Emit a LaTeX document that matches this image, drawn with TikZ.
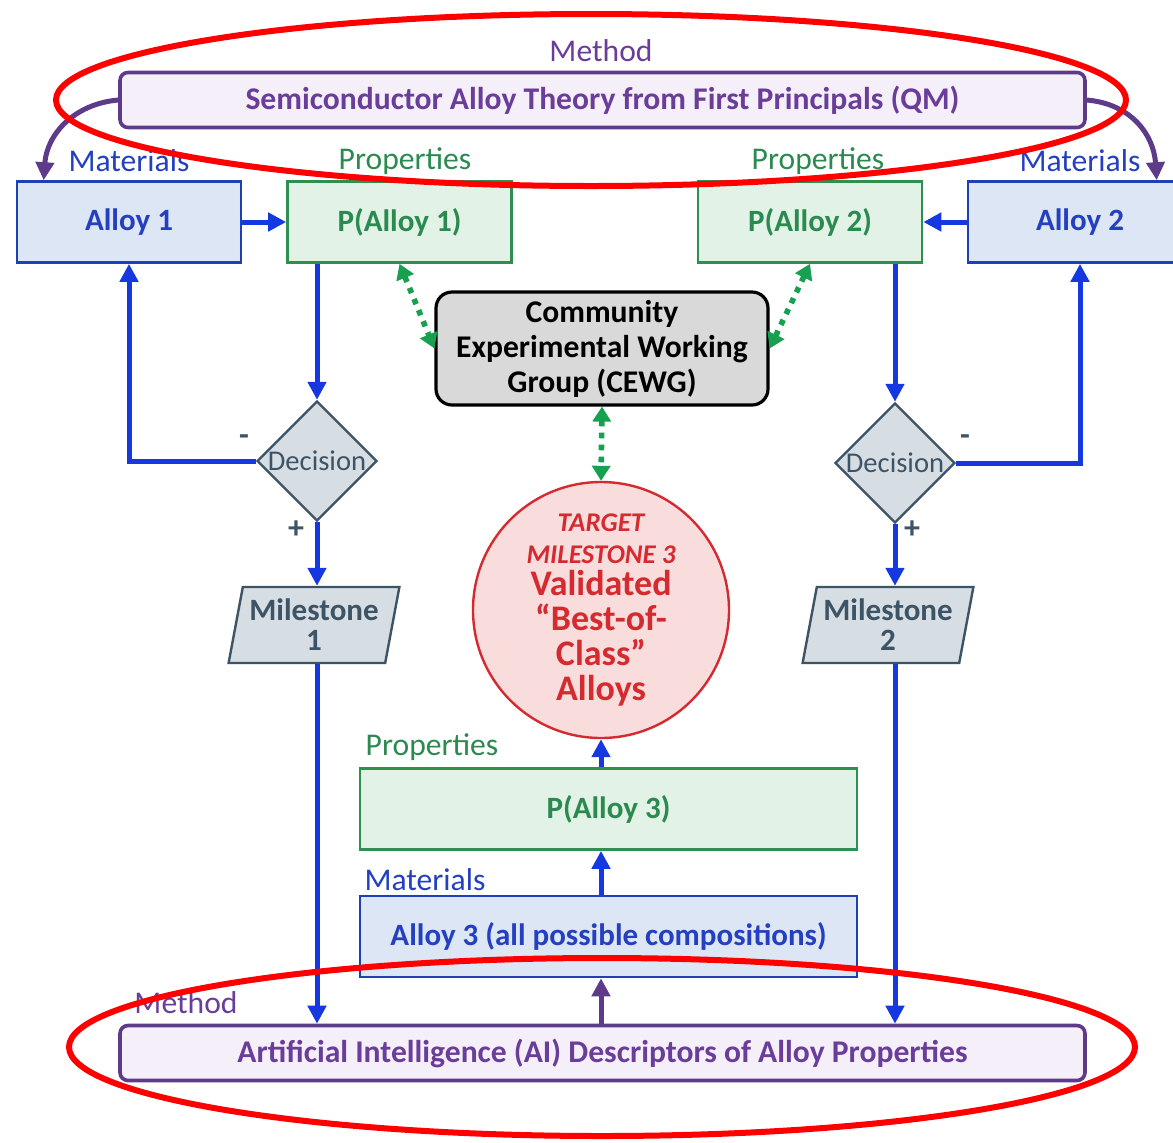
\documentclass[tikz,border=0pt]{standalone}
\usepackage{fontspec}
\setmainfont{Carlito}
\usetikzlibrary{arrows.meta,shapes.geometric,calc}

\definecolor{mpurple}{HTML}{5E3A8A}
\definecolor{mpurpletxt}{HTML}{6A3D9A}
\definecolor{mpurplefill}{HTML}{F4EFF8}
\definecolor{mblue}{HTML}{1F3FB5}
\definecolor{mbluetxt}{HTML}{2440C0}
\definecolor{mbluefill}{HTML}{DCE6F4}
\definecolor{marrow}{HTML}{1538E0}
\definecolor{mgreen}{HTML}{2E9050}
\definecolor{mgreentxt}{HTML}{2B8A50}
\definecolor{mgreenfill}{HTML}{E2F2E6}
\definecolor{dotgreen}{HTML}{17A050}
\definecolor{mslate}{HTML}{3D5366}
\definecolor{mslatefill}{HTML}{D6DEE4}
\definecolor{mred}{HTML}{D42A30}
\definecolor{mredfill}{HTML}{F9DDDD}
\definecolor{mgray}{HTML}{D9D9D9}

\newcommand{\smallred}{\bfseries\itshape\fontsize{13.5}{16}\selectfont}
\newcommand{\bigred}{\upshape\bfseries\fontsize{18}{17.5}\selectfont}

\tikzset{
  methodbox/.style={draw=mpurple, fill=mpurplefill, rounded corners=4pt, line width=1.8pt,
    minimum width=482.5pt, minimum height=27.5pt, inner sep=0pt, text=mpurpletxt,
    font=\bfseries\fontsize{15.8}{18}\selectfont},
  matbox/.style={draw=mblue, fill=mbluefill, line width=1.3pt, minimum width=112pt,
    minimum height=40.5pt, inner sep=0pt, text=mbluetxt, font=\bfseries\fontsize{15.5}{18}\selectfont},
  propbox/.style={draw=mgreen, fill=mgreenfill, line width=1.3pt, minimum width=112pt,
    minimum height=40.5pt, inner sep=0pt, text=mgreentxt, font=\bfseries\fontsize{15.5}{18}\selectfont},
  groupbox/.style={draw=black, fill=mgray, rounded corners=8pt, line width=1.6pt,
    minimum width=166pt, minimum height=56.5pt, inner sep=0pt, align=center,
    font=\bfseries\fontsize{15.8}{17.5}\selectfont},
  decisionbox/.style={diamond, aspect=1, draw=mslate, fill=mslatefill, line width=1.2pt,
    minimum width=60pt, minimum height=60pt, inner sep=-4pt, text=mslate,
    font=\fontsize{14.3}{16}\selectfont},
  milestonebox/.style={trapezium, trapezium left angle=76, trapezium right angle=104,
    trapezium stretches=true, draw=mslate, fill=mslatefill, line width=1.2pt,
    minimum width=86pt, minimum height=38pt, inner sep=0pt, align=center, text=mslate,
    font=\bfseries\fontsize{15.5}{15}\selectfont},
  targetbox/.style={circle, draw=mred, fill=mredfill, line width=1.2pt, minimum size=128pt,
    inner sep=0pt, align=center, text=mred, font=\bfseries\fontsize{18}{17.5}\selectfont},
  purplelabel/.style={text=mpurpletxt, font=\fontsize{15.8}{18}\selectfont},
  bluelabel/.style={text=mbluetxt, font=\fontsize{15.8}{18}\selectfont},
  greenlabel/.style={text=mgreentxt, font=\fontsize{15.8}{18}\selectfont},
  signlabel/.style={text=mslate, font=\bfseries\fontsize{16}{18}\selectfont},
  flow/.style={draw=marrow, line width=2.5pt, -{Triangle[length=9pt,width=9pt]}},
  methodflow/.style={draw=mpurple, line width=2.5pt, -{Triangle[length=9pt,width=9pt]}},
  exchange/.style={draw=dotgreen, line width=2.8pt, dash pattern=on 2.8pt off 3.2pt,
    {Triangle[length=7.5pt,width=9pt]}-{Triangle[length=7.5pt,width=9pt]}},
  highlight/.style={draw=red, line width=3pt}
}

\begin{document}
\begin{tikzpicture}[x=0.5pt, y=-0.5pt]
\useasboundingbox[fill=white] (0,0) rectangle (1173,1142);

% method bars
\node[methodbox] (qm) at (602.5,100) {Semiconductor Alloy Theory from First Principals (QM)};
\node[purplelabel] (qmlabel) at (601,51) {Method};
\node[methodbox] (ai) at (602.5,1053) {Artificial Intelligence (AI) Descriptors of Alloy Properties};
\node[purplelabel] (ailabel) at (186,1003) {Method};

% first row of materials and properties
\node[matbox] (alloy1) at (129,222) {Alloy 1};
\node[bluelabel] (m1label) at (129,161) {Materials};
\node[propbox] (palloy1) at (399.5,222) {P(Alloy 1)};
\node[greenlabel] (p1label) at (405,161) {Properties};
\node[propbox] (palloy2) at (810,222) {P(Alloy 2)};
\node[greenlabel] (p2label) at (818,161) {Properties};
\node[matbox] (alloy2) at (1080,222) {Alloy 2};
\node[bluelabel] (m2label) at (1080,161) {Materials};

% experimental group
\node[groupbox] (cewg) at (602,348.5) {Community\\Experimental Working\\Group (CEWG)};

% decisions and milestones
\node[decisionbox] (dec1) at (317,461) {Decision};
\node[decisionbox] (dec2) at (895,463) {Decision};
\node[milestonebox] (ms1) at (314,625) {Milestone\\1};
\node[milestonebox] (ms2) at (888,625) {Milestone\\2};
\node[signlabel] (minus1) at (244,440) {-};
\node[signlabel] (plus1) at (296,530) {+};
\node[signlabel] (minus2) at (965,440) {-};
\node[signlabel] (plus2) at (912,530) {+};

% target
\node[targetbox] (target) at (601,610) {%
  \smallred TARGET\\[-1.5pt]\smallred MILESTONE 3\\[-1.5pt]
  \bigred Validated\\\bigred “Best-of-\\\bigred Class”\\\bigred Alloys};

% third alloy
\node[propbox, minimum width=248.5pt] (palloy3) at (608.5,809) {P(Alloy 3)};
\node[greenlabel] (p3label) at (432,747) {Properties};
\node[matbox, minimum width=248.5pt] (alloy3) at (608.5,936.5) {Alloy 3 (all possible compositions)};
\node[bluelabel] (m3label) at (425,880) {Materials};

% connectors
\coordinate (m1top) at ($(alloy1.north west)+(28,0)$);
\coordinate (m2top) at ($(alloy2.north west)+(190,0)$);
\draw[methodflow] (qm.west) .. controls +(-45,4) and +(3,-45) .. (m1top);
\draw[methodflow] (qm.east) .. controls +(45,4) and +(-3,-45) .. (m2top);

\draw[flow] (alloy1.east) -- (palloy1.west);
\draw[flow] (alloy2.west) -- (palloy2.east);

\draw[flow] (dec1.north |- palloy1.south) -- (dec1.north);
\draw[flow] (dec2.north |- palloy2.south) -- (dec2.north);
\draw[flow] (dec1.west) -| (alloy1.south);
\draw[flow] (dec2.east) -| (alloy2.south);
\draw[flow] (dec1.south) -- (dec1.south |- ms1.north);
\draw[flow] (dec2.south) -- (dec2.south |- ms2.north);
\draw[flow] (dec1.south |- ms1.south) -- (dec1.south |- ai.north);
\draw[flow] (dec2.south |- ms2.south) -- (dec2.south |- ai.north);

\draw[exchange] (palloy1.south) -- (cewg.west);
\draw[exchange] (palloy2.south) -- (cewg.east);
\draw[exchange] (cewg.south) -- (target.north);

\draw[flow] (target.south |- palloy3.north) -- (target.south);
\draw[flow] (target.south |- alloy3.north) -- (target.south |- palloy3.south);
\draw[methodflow] (target.south |- ai.north) -- (target.south |- alloy3.south);

% highlight rings
\draw[highlight] (591,100) ellipse [x radius=267.5pt, y radius=43pt];
\draw[highlight] (602,1047) ellipse [x radius=266.5pt, y radius=44.5pt];
\end{tikzpicture}
\end{document}
